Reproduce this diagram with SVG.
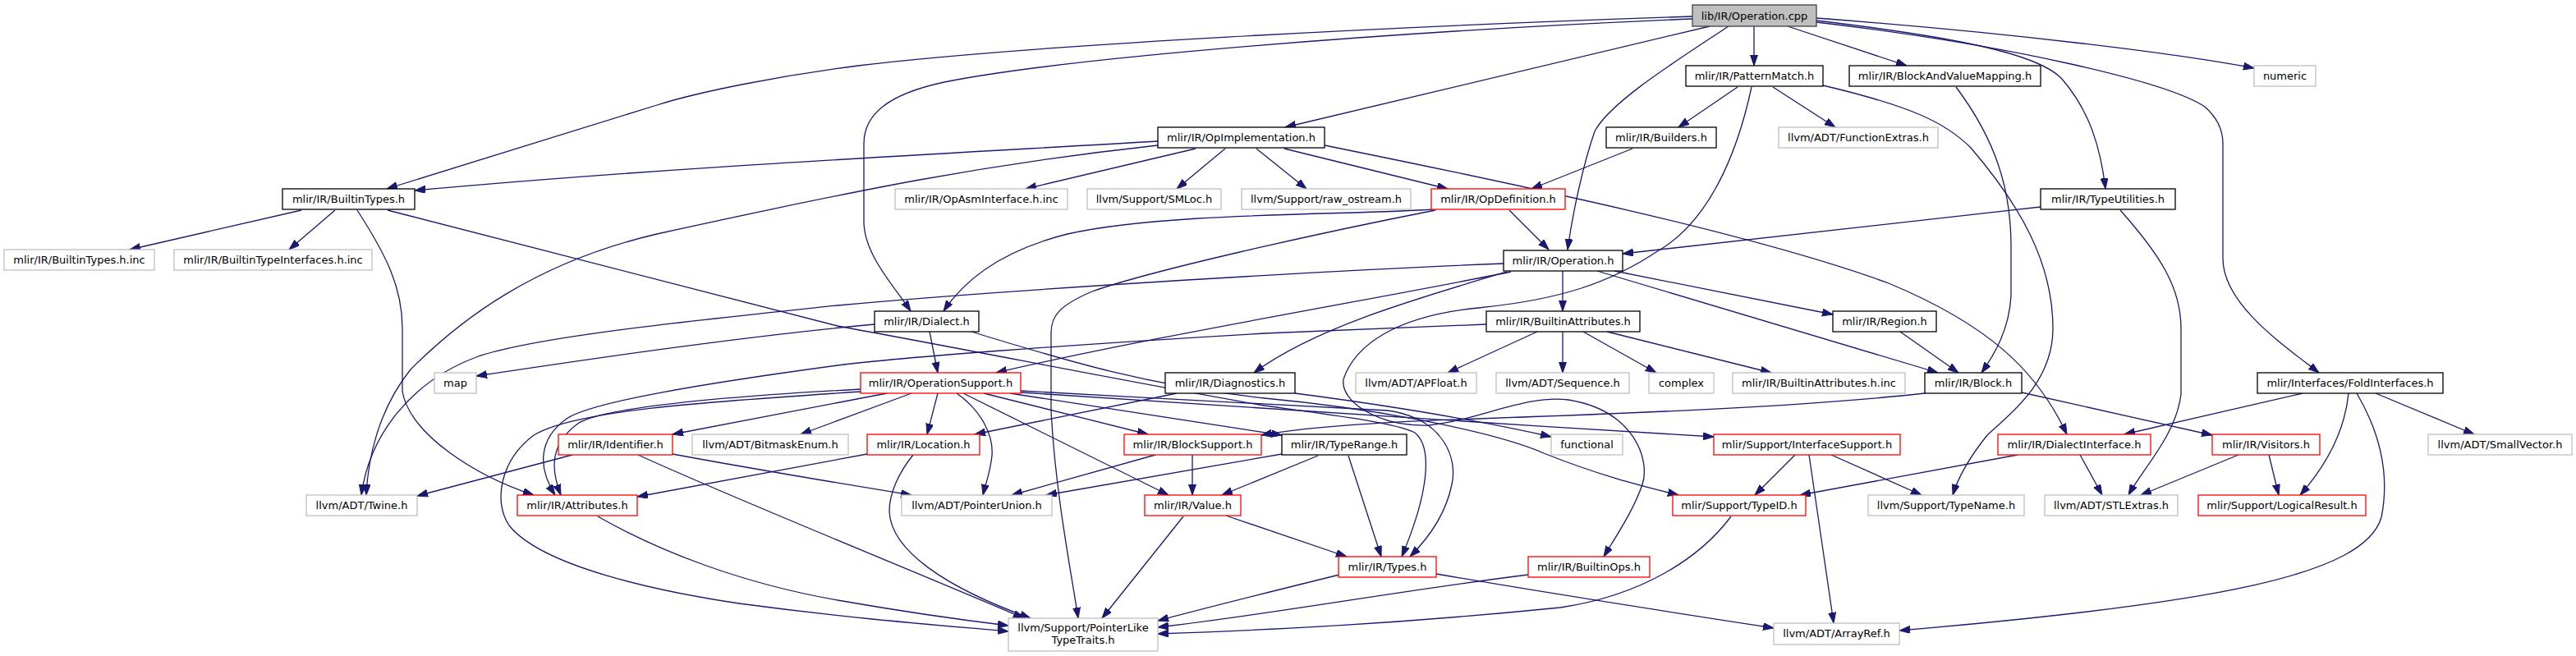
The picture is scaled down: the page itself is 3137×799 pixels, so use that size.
<svg xmlns="http://www.w3.org/2000/svg" width="3137" height="799" viewBox="0 0 3137 799">
<style>
.n rect{fill:#fff;stroke:#000;stroke-width:1.3}
.r rect{fill:#fff;stroke:#ff0000;stroke-width:1.3}
.g rect{fill:#fff;stroke:#bfbfbf;stroke-width:1.3}
.root rect{fill:#bfbfbf;stroke:#404040;stroke-width:1.3}
text{font-family:"DejaVu Sans","Liberation Sans",sans-serif;font-size:13px;fill:#000;text-anchor:middle}
#edges path{fill:none;stroke:#191970;stroke-width:1.3;marker-end:url(#a)}
</style>
<defs>
<marker id="a" markerUnits="userSpaceOnUse" markerWidth="14" markerHeight="10" refX="13" refY="4.5" orient="auto">
<path d="M0,0 L13,4.5 L0,9 z" fill="#191970" stroke="#191970" stroke-width="1"/>
</marker>
</defs>
<rect x="0" y="0" width="3137" height="799" fill="#fff"/>
<g id="edges">
<path d="M2136,32 L2136,80"/>
<path d="M2177,32 L2322,80"/>
<path d="M2105,32 C2040,75 1960,125 1942,160 C1928,200 1915,260 1909,304"/>
<path d="M2082,32 L1565,155"/>
<path d="M2061,20 C1700,32 1250,55 1045,80 C950,92 850,112 800,128 L471,230"/>
<path d="M2061,23 C1700,38 1300,70 1150,100 C1080,115 1052,140 1052,175 L1052,270 C1052,310 1090,350 1109,379"/>
<path d="M2212,22 C2450,40 2650,65 2745,83"/>
<path d="M2212,25 C2380,45 2480,65 2510,95 C2545,135 2558,180 2564,230"/>
<path d="M2212,27 C2450,55 2640,100 2685,130 C2702,145 2707,160 2707,175 L2707,315 C2707,370 2780,420 2824,454"/>
<path d="M2116,106 L2044,155"/>
<path d="M2159,106 L2235,155"/>
<path d="M2133,106 C2115,190 2080,270 2020,305 C1960,345 1900,365 1800,375 C1700,385 1650,420 1636,462 C1632,490 1680,520 1740,518 C1800,512 1860,480 1910,487 C1990,500 2010,560 2000,590 C1990,620 1970,650 1953,678"/>
<path d="M2220,104 C2330,130 2370,150 2400,180 C2460,250 2500,320 2500,400 C2500,470 2440,510 2420,530 C2400,555 2385,580 2378,603"/>
<path d="M2382,106 C2430,170 2449,230 2449,300 L2449,360 C2447,400 2430,430 2413,454"/>
<path d="M1410,172 C1100,190 800,205 505,232"/>
<path d="M1410,177 C1200,200 1050,230 800,285 C650,320 560,390 500,450 C460,500 448,560 446,603"/>
<path d="M1456,181 L1249,230"/>
<path d="M1492,181 L1433,230"/>
<path d="M1530,181 L1591,230"/>
<path d="M1564,181 L1763,230"/>
<path d="M1613,177 C1900,235 2150,290 2300,345 C2420,395 2480,450 2517,529"/>
<path d="M1988,181 L1865,230"/>
<path d="M1838,256 L1886,304"/>
<path d="M1745,255 C1650,262 1420,258 1300,285 C1220,305 1175,340 1149,379"/>
<path d="M1748,256 C1600,285 1400,330 1330,355 C1290,372 1280,385 1280,405 L1280,500 C1285,600 1305,700 1313,753"/>
<path d="M2485,252 L1976,309"/>
<path d="M2582,256 C2630,310 2656,350 2656,400 L2656,480 C2650,530 2610,570 2592,603"/>
<path d="M2804,479 L2587,529"/>
<path d="M2860,479 C2855,530 2830,570 2801,603"/>
<path d="M2893,479 L3013,529"/>
<path d="M2870,479 C2900,530 2910,580 2900,630 C2880,700 2700,735 2313,768"/>
<path d="M367,256 L158,304"/>
<path d="M408,256 L352,304"/>
<path d="M435,256 C470,310 490,350 490,400 L490,477 C500,530 580,580 650,603"/>
<path d="M472,256 L1020,397 C1200,430 1400,470 1540,494 C1620,505 1700,515 1723,527 C1745,545 1740,600 1707,678"/>
<path d="M1903,330 L1903,379"/>
<path d="M1966,330 L2232,383"/>
<path d="M1945,330 L2360,454"/>
<path d="M1840,331 C1700,360 1400,410 1213,454"/>
<path d="M1835,331 C1720,365 1600,400 1527,454"/>
<path d="M1831,321 C1600,330 1200,355 1020,372 C850,390 650,410 580,435 C500,465 450,530 440,603"/>
<path d="M1132,404 L1142,454"/>
<path d="M1065,395 C900,410 700,440 580,458"/>
<path d="M1183,404 C1300,440 1400,470 1540,485 C1700,500 1830,530 1880,552 C1950,580 2000,592 2044,603"/>
<path d="M1872,404 L1763,454"/>
<path d="M1903,404 L1903,454"/>
<path d="M1928,404 L2017,454"/>
<path d="M1957,404 L2157,454"/>
<path d="M1810,395 L1540,406 C1300,420 1100,435 1020,445 C850,468 720,490 690,510 C655,535 655,570 676,603"/>
<path d="M2314,404 L2385,454"/>
<path d="M2462,478 L2694,530"/>
<path d="M2344,479 C2200,495 2000,503 1800,510 C1650,515 1580,522 1536,530"/>
<path d="M1433,479 L1187,529"/>
<path d="M1577,479 C1700,495 1800,512 1889,532"/>
<path d="M1080,479 L819,529"/>
<path d="M1110,479 L975,529"/>
<path d="M1142,479 L1129,529"/>
<path d="M1165,479 C1195,500 1210,530 1208,555 C1206,575 1200,590 1197,603"/>
<path d="M1173,479 L1423,603"/>
<path d="M1198,479 L1398,529"/>
<path d="M1230,479 L1561,530"/>
<path d="M1048,474 C900,482 740,495 705,515 C670,540 670,570 683,603"/>
<path d="M1048,477 C850,490 700,500 650,530 C610,560 600,610 620,640 C660,690 800,720 900,735 C1050,755 1150,762 1228,769"/>
<path d="M1243,476 C1400,485 1600,495 1690,500 C1760,510 1775,560 1768,590 C1760,630 1735,660 1717,678"/>
<path d="M1243,478 C1500,495 1800,515 2087,532"/>
<path d="M697,554 L508,604"/>
<path d="M819,553 C900,568 1000,585 1110,603"/>
<path d="M777,554 C900,610 1100,690 1247,753"/>
<path d="M1056,553 L776,605"/>
<path d="M1112,554 C1095,575 1083,600 1083,623 C1085,670 1150,715 1255,753"/>
<path d="M728,629 C800,670 900,710 1020,731 C1100,745 1170,755 1228,762"/>
<path d="M1407,554 L1232,603"/>
<path d="M1452,554 L1452,603"/>
<path d="M1561,553 L1274,603"/>
<path d="M1605,555 L1488,603"/>
<path d="M1642,555 L1682,678"/>
<path d="M1441,629 L1342,753"/>
<path d="M1493,628 L1640,678"/>
<path d="M1631,700 C1550,720 1470,740 1410,756"/>
<path d="M1749,699 C1900,725 2050,748 2160,765"/>
<path d="M1861,700 C1700,720 1550,748 1410,764"/>
<path d="M2108,629 C2070,680 2000,725 1900,740 C1700,760 1550,767 1410,772"/>
<path d="M2186,554 L2137,603"/>
<path d="M2203,554 L2233,759"/>
<path d="M2230,554 L2340,603"/>
<path d="M2457,554 L2192,603"/>
<path d="M2533,554 L2560,603"/>
<path d="M2726,554 L2607,603"/>
<path d="M2763,554 L2775,603"/>
</g>
<g id="op_cpp" class="root"><rect x="2061" y="6" width="151" height="26"/><text x="2136.5" y="23.5">lib/IR/Operation.cpp</text></g>
<g id="patternmatch" class="n"><rect x="2053" y="80" width="167" height="25"/><text x="2136.5" y="97">mlir/IR/PatternMatch.h</text></g>
<g id="bavm" class="n"><rect x="2252" y="80" width="233" height="25"/><text x="2368.5" y="97">mlir/IR/BlockAndValueMapping.h</text></g>
<g id="numeric" class="g"><rect x="2745" y="80" width="75" height="25"/><text x="2782.5" y="97">numeric</text></g>
<g id="opimpl" class="n"><rect x="1410" y="155" width="203" height="25"/><text x="1511.5" y="172">mlir/IR/OpImplementation.h</text></g>
<g id="builders" class="n"><rect x="1956" y="155" width="134" height="25"/><text x="2023" y="172">mlir/IR/Builders.h</text></g>
<g id="funcextras" class="g"><rect x="2166" y="155" width="194" height="25"/><text x="2263" y="172">llvm/ADT/FunctionExtras.h</text></g>
<g id="builtintypes" class="n"><rect x="344" y="230" width="161" height="25"/><text x="424.5" y="247">mlir/IR/BuiltinTypes.h</text></g>
<g id="opasm" class="g"><rect x="1090" y="230" width="210" height="25"/><text x="1195" y="247">mlir/IR/OpAsmInterface.h.inc</text></g>
<g id="smloc" class="g"><rect x="1324" y="230" width="163" height="25"/><text x="1405.5" y="247">llvm/Support/SMLoc.h</text></g>
<g id="rawostream" class="g"><rect x="1512" y="230" width="206" height="25"/><text x="1615" y="247">llvm/Support/raw_ostream.h</text></g>
<g id="opdef" class="r"><rect x="1743" y="230" width="163" height="25"/><text x="1824.5" y="247">mlir/IR/OpDefinition.h</text></g>
<g id="typeutil" class="n"><rect x="2485" y="230" width="164" height="25"/><text x="2567" y="247">mlir/IR/TypeUtilities.h</text></g>
<g id="bt_inc" class="g"><rect x="5" y="304" width="183" height="25"/><text x="96.5" y="321">mlir/IR/BuiltinTypes.h.inc</text></g>
<g id="bti_inc" class="g"><rect x="212" y="304" width="241" height="25"/><text x="332.5" y="321">mlir/IR/BuiltinTypeInterfaces.h.inc</text></g>
<g id="operation_h" class="n"><rect x="1831" y="305" width="145" height="25"/><text x="1903.5" y="322">mlir/IR/Operation.h</text></g>
<g id="dialect" class="n"><rect x="1065" y="379" width="127" height="25"/><text x="1128.5" y="396">mlir/IR/Dialect.h</text></g>
<g id="builtinattr" class="n"><rect x="1810" y="379" width="187" height="25"/><text x="1903.5" y="396">mlir/IR/BuiltinAttributes.h</text></g>
<g id="region" class="n"><rect x="2232" y="379" width="126" height="25"/><text x="2295" y="396">mlir/IR/Region.h</text></g>
<g id="map" class="g"><rect x="529" y="454" width="51" height="25"/><text x="554.5" y="471">map</text></g>
<g id="opsupport" class="r"><rect x="1048" y="454" width="195" height="25"/><text x="1145.5" y="471">mlir/IR/OperationSupport.h</text></g>
<g id="diagnostics" class="n"><rect x="1419" y="454" width="158" height="25"/><text x="1498" y="471">mlir/IR/Diagnostics.h</text></g>
<g id="apfloat" class="g"><rect x="1651" y="454" width="147" height="25"/><text x="1724.5" y="471">llvm/ADT/APFloat.h</text></g>
<g id="sequence" class="g"><rect x="1822" y="454" width="162" height="25"/><text x="1903" y="471">llvm/ADT/Sequence.h</text></g>
<g id="complex" class="g"><rect x="2008" y="454" width="79" height="25"/><text x="2047.5" y="471">complex</text></g>
<g id="battr_inc" class="g"><rect x="2110" y="454" width="210" height="25"/><text x="2215" y="471">mlir/IR/BuiltinAttributes.h.inc</text></g>
<g id="block" class="n"><rect x="2344" y="454" width="118" height="25"/><text x="2403" y="471">mlir/IR/Block.h</text></g>
<g id="fold" class="n"><rect x="2749" y="454" width="226" height="25"/><text x="2862" y="471">mlir/Interfaces/FoldInterfaces.h</text></g>
<g id="identifier" class="r"><rect x="680" y="529" width="139" height="25"/><text x="749.5" y="546">mlir/IR/Identifier.h</text></g>
<g id="bitmask" class="g"><rect x="843" y="529" width="190" height="25"/><text x="938" y="546">llvm/ADT/BitmaskEnum.h</text></g>
<g id="location" class="r"><rect x="1056" y="529" width="137" height="25"/><text x="1124.5" y="546">mlir/IR/Location.h</text></g>
<g id="blocksupport" class="r"><rect x="1369" y="529" width="167" height="25"/><text x="1452.5" y="546">mlir/IR/BlockSupport.h</text></g>
<g id="typerange" class="n"><rect x="1561" y="529" width="152" height="25"/><text x="1637" y="546">mlir/IR/TypeRange.h</text></g>
<g id="functional" class="g"><rect x="1889" y="529" width="87" height="25"/><text x="1932.5" y="546">functional</text></g>
<g id="ifacesupport" class="r"><rect x="2087" y="529" width="227" height="25"/><text x="2200.5" y="546">mlir/Support/InterfaceSupport.h</text></g>
<g id="dialectiface" class="r"><rect x="2433" y="529" width="186" height="25"/><text x="2526" y="546">mlir/IR/DialectInterface.h</text></g>
<g id="visitors" class="r"><rect x="2694" y="529" width="131" height="25"/><text x="2759.5" y="546">mlir/IR/Visitors.h</text></g>
<g id="smallvector" class="g"><rect x="2957" y="529" width="175" height="25"/><text x="3044.5" y="546">llvm/ADT/SmallVector.h</text></g>
<g id="twine" class="g"><rect x="373" y="603" width="135" height="25"/><text x="440.5" y="620">llvm/ADT/Twine.h</text></g>
<g id="attributes" class="r"><rect x="630" y="603" width="146" height="25"/><text x="703" y="620">mlir/IR/Attributes.h</text></g>
<g id="pointerunion" class="g"><rect x="1098" y="603" width="183" height="25"/><text x="1189.5" y="620">llvm/ADT/PointerUnion.h</text></g>
<g id="value" class="r"><rect x="1394" y="603" width="117" height="25"/><text x="1452.5" y="620">mlir/IR/Value.h</text></g>
<g id="typeid" class="r"><rect x="2037" y="603" width="162" height="25"/><text x="2118" y="620">mlir/Support/TypeID.h</text></g>
<g id="typename" class="g"><rect x="2275" y="603" width="190" height="25"/><text x="2370" y="620">llvm/Support/TypeName.h</text></g>
<g id="stlextras" class="g"><rect x="2490" y="603" width="162" height="25"/><text x="2571" y="620">llvm/ADT/STLExtras.h</text></g>
<g id="logicalresult" class="r"><rect x="2677" y="603" width="204" height="25"/><text x="2779" y="620">mlir/Support/LogicalResult.h</text></g>
<g id="types" class="r"><rect x="1630" y="678" width="119" height="25"/><text x="1689.5" y="695">mlir/IR/Types.h</text></g>
<g id="builtinops" class="r"><rect x="1861" y="678" width="148" height="25"/><text x="1935" y="695">mlir/IR/BuiltinOps.h</text></g>
<g id="pointerlike" class="g"><rect x="1228" y="753" width="182" height="40"/><text x="1319" y="769">llvm/Support/PointerLike</text><text x="1319" y="784">TypeTraits.h</text></g>
<g id="arrayref" class="g"><rect x="2160" y="759" width="153" height="26"/><text x="2236.5" y="776">llvm/ADT/ArrayRef.h</text></g>
</svg>
